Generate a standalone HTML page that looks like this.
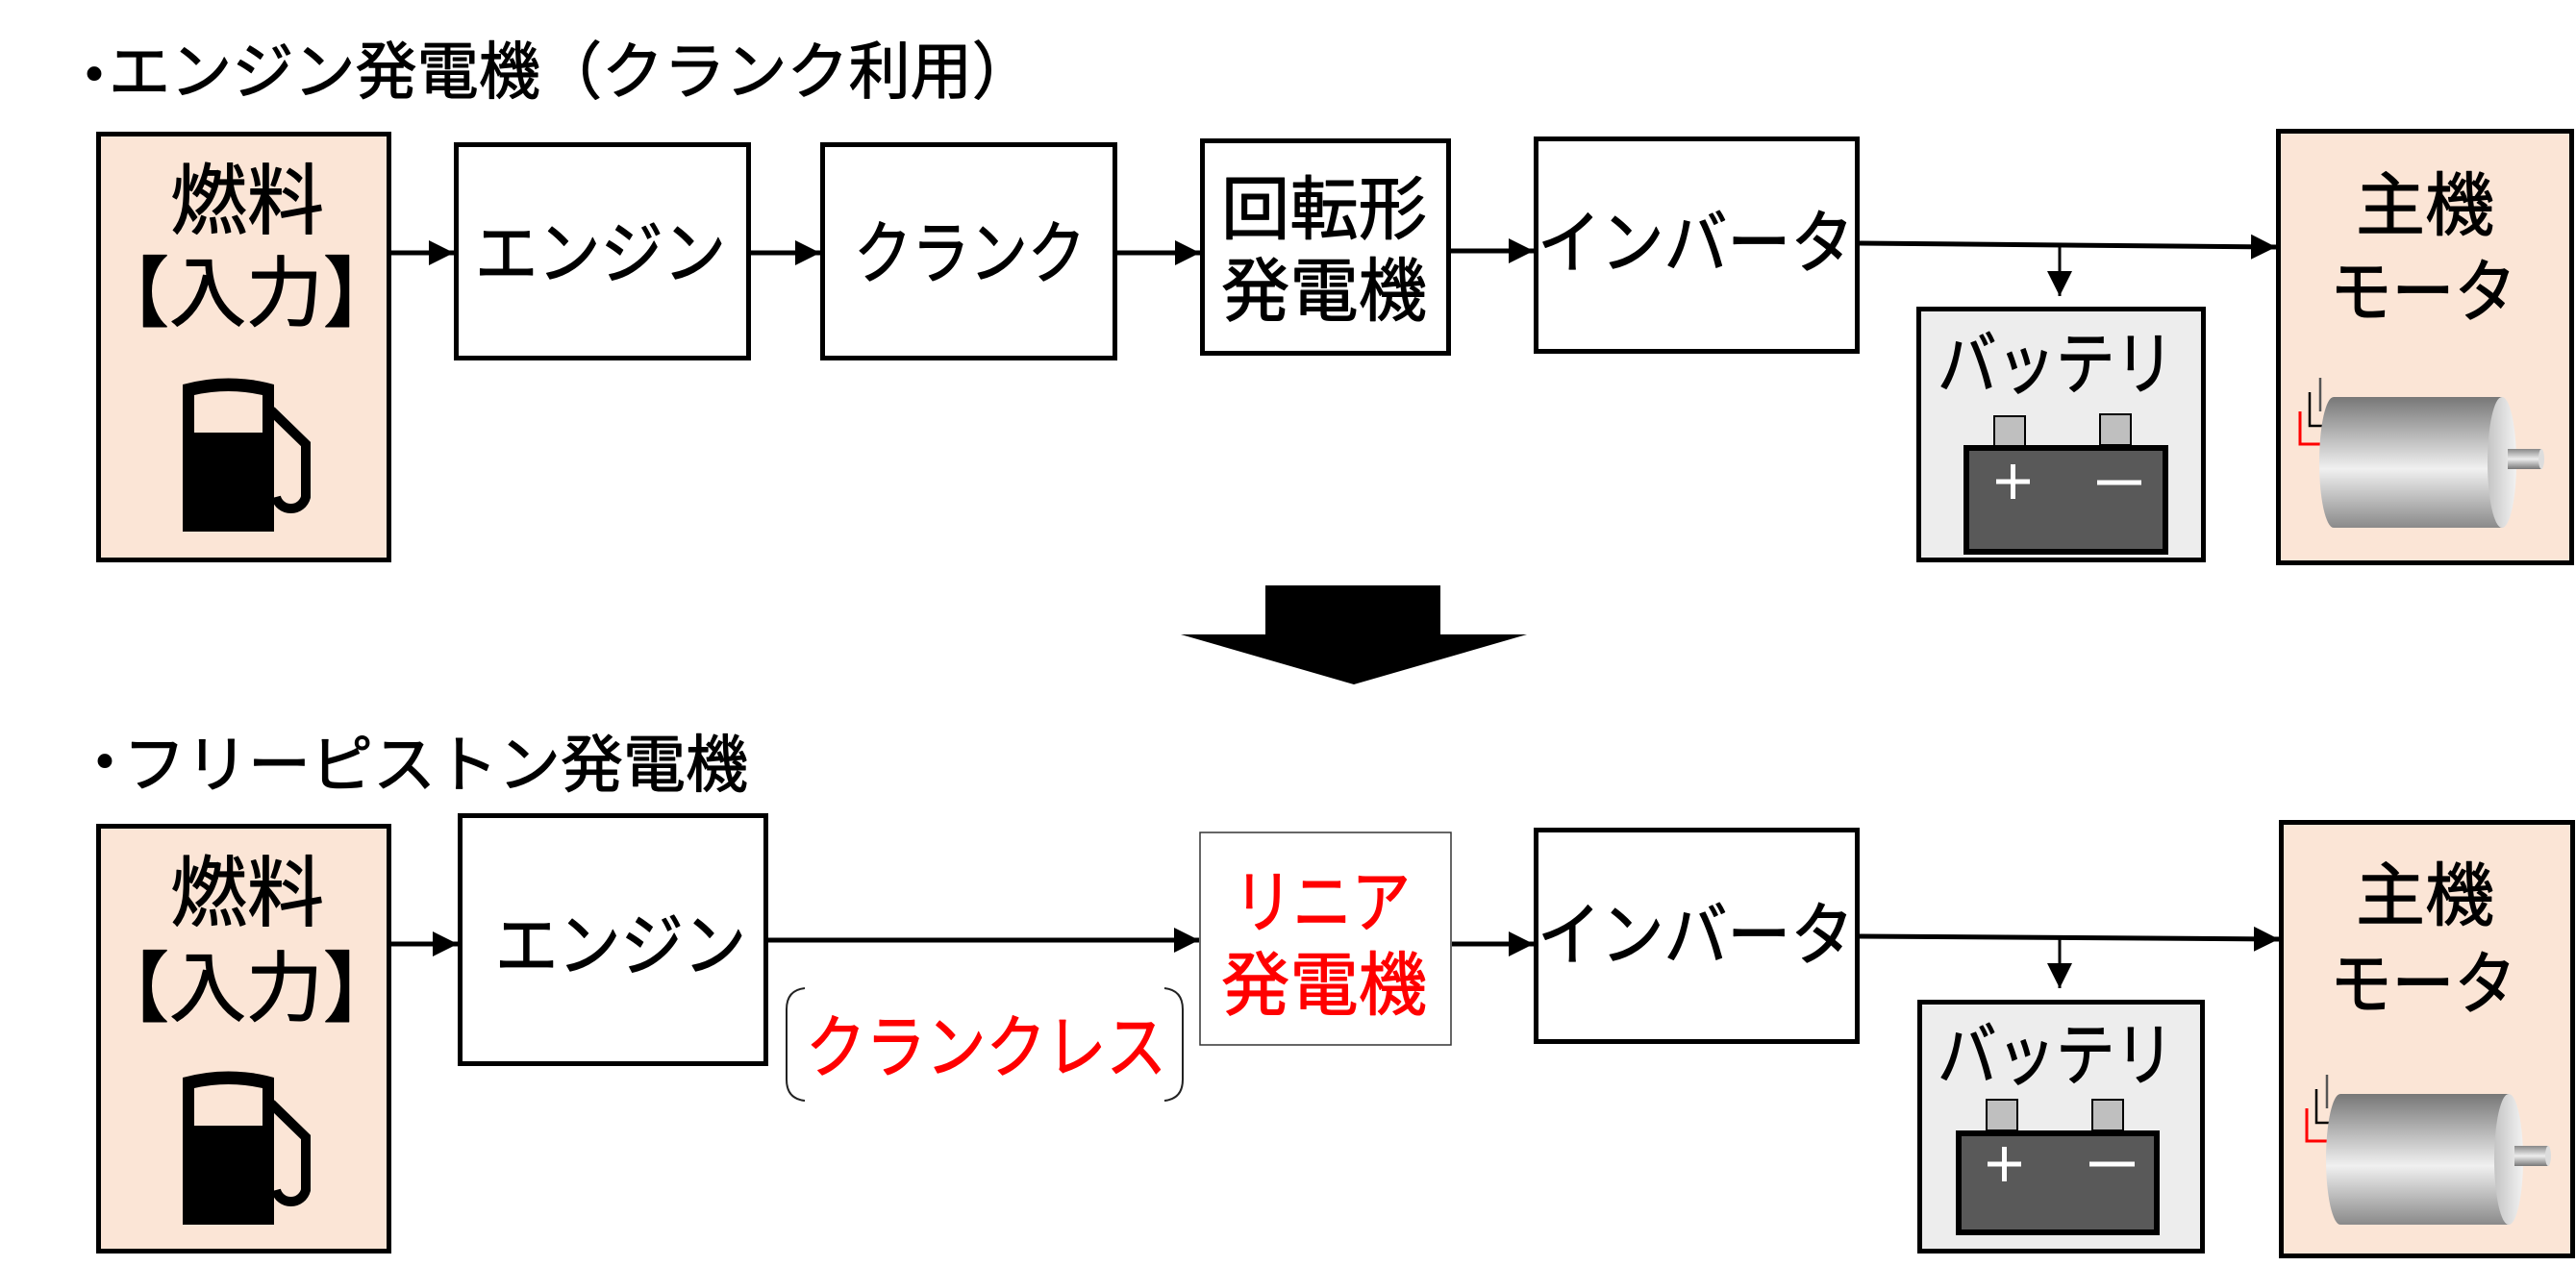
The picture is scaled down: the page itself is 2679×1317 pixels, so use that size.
<!DOCTYPE html>
<html><head><meta charset="utf-8">
<style>
html,body{margin:0;padding:0;background:#fff;}
svg{display:block;}
text{font-family:"Liberation Sans","Noto Sans CJK JP",sans-serif;fill:#000;stroke:#000;stroke-width:1.1px;stroke-linejoin:round;}
text.red{fill:#f00;stroke:#f00;}
</style></head>
<body>
<svg width="2679" height="1317" viewBox="0 0 2679 1317" xmlns="http://www.w3.org/2000/svg">
<defs>
<linearGradient id="cyl" x1="0" y1="0" x2="0" y2="1">
<stop offset="0" stop-color="#777"/>
<stop offset="0.55" stop-color="#f0f0f0"/>
<stop offset="1" stop-color="#8a8a8a"/>
</linearGradient>
<linearGradient id="cap" x1="0" y1="0" x2="1" y2="0">
<stop offset="0" stop-color="#c4c4c4"/>
<stop offset="1" stop-color="#f2f2f2"/>
</linearGradient>
<linearGradient id="shaft" x1="0" y1="0" x2="0" y2="1">
<stop offset="0" stop-color="#888"/>
<stop offset="0.5" stop-color="#eee"/>
<stop offset="1" stop-color="#777"/>
</linearGradient>
<marker id="ah" viewBox="0 0 10 10" refX="10" refY="5" markerWidth="5.2" markerHeight="5.4" markerUnits="strokeWidth" orient="auto"><path d="M0,0 L10,5 L0,10 Z" fill="#000"/></marker>
<marker id="ah2" viewBox="0 0 10 10" refX="10" refY="5" markerWidth="8.7" markerHeight="8.7" markerUnits="strokeWidth" orient="auto"><path d="M0,0 L10,5 L0,10 Z" fill="#000"/></marker>
</defs>

<!-- ===== TOP ===== -->
<text x="98" y="101" font-size="65" text-anchor="middle">・</text>
<text x="113" y="97" font-size="65" textLength="962" lengthAdjust="spacingAndGlyphs">エンジン発電機（クランク利用）</text>

<!-- fuel box 1 -->
<rect x="102.5" y="139.5" width="302" height="443" fill="#fbe5d6" stroke="#000" stroke-width="5"/>
<text x="257" y="237" font-size="80" text-anchor="middle">燃料</text>
<text x="256" y="333" font-size="80" text-anchor="middle">【入力】</text>
<g>
<path d="M190,400 Q237.5,387 285,400 L285,553 L190,553 Z" fill="#000"/>
<path d="M202,411 Q237.5,403 273,411 L273,450 L202,450 Z" fill="#fbe5d6"/>
<path d="M282,427 L318,462 L318,517 A16,16 0 0 1 287,517" fill="none" stroke="#000" stroke-width="10"/>
</g>

<!-- engine 1 -->
<rect x="474.5" y="150.5" width="304" height="222" fill="#fff" stroke="#000" stroke-width="5"/>
<text x="494" y="289" font-size="72" textLength="261" lengthAdjust="spacingAndGlyphs">エンジン</text>
<!-- crank 1 -->
<rect x="855.5" y="150.5" width="304" height="222" fill="#fff" stroke="#000" stroke-width="5"/>
<text x="888" y="289" font-size="72" textLength="241" lengthAdjust="spacingAndGlyphs">クランク</text>
<!-- rotary gen -->
<rect x="1250.5" y="146.5" width="256" height="221" fill="#fff" stroke="#000" stroke-width="5"/>
<text x="1270" y="243" font-size="72" textLength="214" lengthAdjust="spacingAndGlyphs">回転形</text>
<text x="1270" y="328" font-size="72" textLength="214" lengthAdjust="spacingAndGlyphs">発電機</text>
<!-- inverter 1 -->
<rect x="1597.5" y="144.5" width="334" height="221" fill="#fff" stroke="#000" stroke-width="5"/>
<text x="1599" y="278" font-size="72" textLength="329" lengthAdjust="spacingAndGlyphs">インバータ</text>
<!-- battery 1 -->
<rect x="1995.5" y="321.5" width="296" height="261" fill="#ededed" stroke="#000" stroke-width="5"/>
<text x="2015" y="404" font-size="72" textLength="246" lengthAdjust="spacingAndGlyphs">バッテリ</text>
<rect x="2074" y="433" width="32" height="32" fill="#bfbfbf" stroke="#000" stroke-width="2"/>
<rect x="2184" y="431" width="32" height="32" fill="#bfbfbf" stroke="#000" stroke-width="2"/>
<rect x="2045" y="466" width="207" height="108" fill="#595959" stroke="#000" stroke-width="6"/>
<path d="M2076,501 H2111 M2093.5,483 V519" stroke="#fff" stroke-width="5"/>
<path d="M2181,502 H2227" stroke="#fff" stroke-width="5"/>
<!-- motor 1 -->
<rect x="2369.5" y="136.5" width="305" height="449" fill="#fbe5d6" stroke="#000" stroke-width="5"/>
<text x="2522" y="239" font-size="72" text-anchor="middle">主機</text>
<text x="2423" y="329" font-size="72" textLength="194" lengthAdjust="spacingAndGlyphs">モータ</text>
<g>
<path d="M2413,393 V428" stroke="#555" stroke-width="2.5" fill="none"/>
<path d="M2402,408 V443 H2415" stroke="#000" stroke-width="2.5" fill="none"/>
<path d="M2392,428 V462 H2413" stroke="#f00" stroke-width="3" fill="none"/>
<path d="M2427,413 L2602,413 L2602,549 L2427,549 A15,68 0 0 1 2427,413 Z" fill="url(#cyl)"/>
<ellipse cx="2602" cy="481" rx="15" ry="68" fill="url(#cap)"/>
<rect x="2608" y="467" width="35" height="21" fill="url(#shaft)"/>
<ellipse cx="2643" cy="477.5" rx="3" ry="10.5" fill="#ddd"/>
</g>

<!-- arrows top -->
<g stroke="#000" stroke-width="5" fill="none">
<line x1="407" y1="263" x2="472" y2="263" marker-end="url(#ah)"/>
<line x1="781" y1="263" x2="853" y2="263" marker-end="url(#ah)"/>
<line x1="1162" y1="263" x2="1248" y2="263" marker-end="url(#ah)"/>
<line x1="1509" y1="261" x2="1595" y2="261" marker-end="url(#ah)"/>
<line x1="1934" y1="253" x2="2367" y2="257" marker-end="url(#ah)"/>
<line x1="2142" y1="254" x2="2142" y2="308" stroke-width="3" marker-end="url(#ah2)"/>
</g>

<!-- big arrow -->
<path d="M1316,609 H1498 V660 H1588 L1408,712 L1228,660 H1316 Z" fill="#000"/>

<!-- ===== BOTTOM ===== -->
<text x="109" y="816" font-size="65" text-anchor="middle">・</text>
<text x="128" y="818" font-size="65" textLength="650" lengthAdjust="spacingAndGlyphs">フリーピストン発電機</text>

<rect x="102.5" y="859.5" width="302" height="442" fill="#fbe5d6" stroke="#000" stroke-width="5"/>
<text x="257" y="957" font-size="80" text-anchor="middle">燃料</text>
<text x="256" y="1056" font-size="80" text-anchor="middle">【入力】</text>
<g transform="translate(0,721)">
<path d="M190,400 Q237.5,387 285,400 L285,553 L190,553 Z" fill="#000"/>
<path d="M202,411 Q237.5,403 273,411 L273,450 L202,450 Z" fill="#fbe5d6"/>
<path d="M282,427 L318,462 L318,517 A16,16 0 0 1 287,517" fill="none" stroke="#000" stroke-width="10"/>
</g>

<rect x="478.5" y="848.5" width="318" height="258" fill="#fff" stroke="#000" stroke-width="5"/>
<text x="515" y="1009" font-size="72" textLength="261" lengthAdjust="spacingAndGlyphs">エンジン</text>

<path d="M837,1028 Q818,1030 818,1050 L818,1123 Q818,1143 837,1145" fill="none" stroke="#222" stroke-width="2"/>
<path d="M1211,1028 Q1230,1030 1230,1050 L1230,1123 Q1230,1143 1211,1145" fill="none" stroke="#222" stroke-width="2"/>
<text class="red" x="838" y="1115" font-size="72" textLength="375" lengthAdjust="spacingAndGlyphs">クランクレス</text>

<rect x="1248" y="866" width="261" height="221" fill="#fff" stroke="#333" stroke-width="1.5"/>
<text class="red" x="1283" y="964" font-size="72" textLength="184" lengthAdjust="spacingAndGlyphs">リニア</text>
<text class="red" x="1270" y="1050" font-size="72" textLength="214" lengthAdjust="spacingAndGlyphs">発電機</text>

<rect x="1597.5" y="863.5" width="334" height="220" fill="#fff" stroke="#000" stroke-width="5"/>
<text x="1599" y="998" font-size="72" textLength="329" lengthAdjust="spacingAndGlyphs">インバータ</text>

<rect x="1996.5" y="1042.5" width="294" height="259" fill="#ededed" stroke="#000" stroke-width="5"/>
<text x="2015" y="1123" font-size="72" textLength="246" lengthAdjust="spacingAndGlyphs">バッテリ</text>
<rect x="2066" y="1144" width="32" height="32" fill="#bfbfbf" stroke="#000" stroke-width="2"/>
<rect x="2176" y="1144" width="32" height="32" fill="#bfbfbf" stroke="#000" stroke-width="2"/>
<rect x="2037" y="1179" width="206" height="103" fill="#595959" stroke="#000" stroke-width="6"/>
<path d="M2067,1211 H2102 M2084.5,1193 V1229" stroke="#fff" stroke-width="5"/>
<path d="M2173,1211 H2220" stroke="#fff" stroke-width="5"/>

<rect x="2372.5" y="855.5" width="303" height="451" fill="#fbe5d6" stroke="#000" stroke-width="5"/>
<text x="2522" y="957" font-size="72" text-anchor="middle">主機</text>
<text x="2423" y="1049" font-size="72" textLength="194" lengthAdjust="spacingAndGlyphs">モータ</text>
<g transform="translate(7,725)">
<path d="M2413,393 V428" stroke="#555" stroke-width="2.5" fill="none"/>
<path d="M2402,408 V443 H2415" stroke="#000" stroke-width="2.5" fill="none"/>
<path d="M2392,428 V462 H2413" stroke="#f00" stroke-width="3" fill="none"/>
<path d="M2427,413 L2602,413 L2602,549 L2427,549 A15,68 0 0 1 2427,413 Z" fill="url(#cyl)"/>
<ellipse cx="2602" cy="481" rx="15" ry="68" fill="url(#cap)"/>
<rect x="2608" y="467" width="35" height="21" fill="url(#shaft)"/>
<ellipse cx="2643" cy="477.5" rx="3" ry="10.5" fill="#ddd"/>
</g>

<g stroke="#000" stroke-width="5" fill="none">
<line x1="407" y1="982" x2="476" y2="982" marker-end="url(#ah)"/>
<line x1="799" y1="978" x2="1247" y2="978" marker-end="url(#ah)"/>
<line x1="1510" y1="982" x2="1595" y2="982" marker-end="url(#ah)"/>
<line x1="1934" y1="974" x2="2370" y2="977" marker-end="url(#ah)"/>
<line x1="2142" y1="975" x2="2142" y2="1028" stroke-width="3" marker-end="url(#ah2)"/>
</g>
</svg>
</body></html>
